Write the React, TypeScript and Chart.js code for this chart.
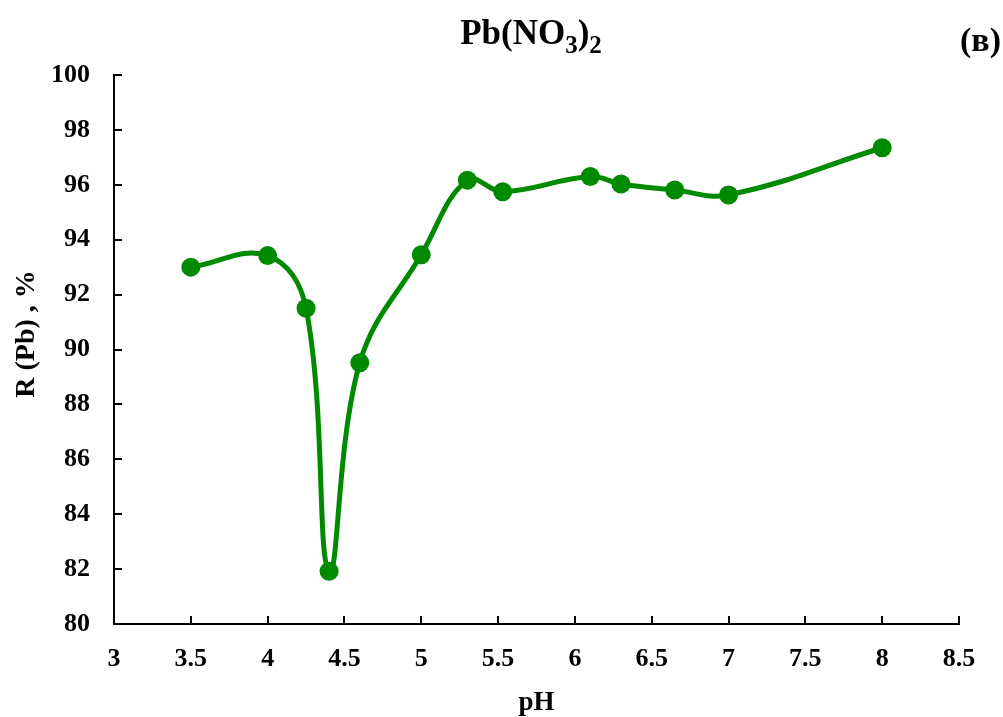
import React, { useEffect, useRef } from "react";
import { Chart, registerables } from "chart.js";

Chart.register(...registerables);

// pH of the solution and lead removal R(Pb), %
const phValues = [3.5, 4.0, 4.25, 4.4, 4.6, 5.0, 5.3, 5.53, 6.1, 6.3, 6.65, 7.0, 8.0];
const recoveryPb = [93.0, 93.42, 91.5, 81.92, 89.52, 93.45, 96.17, 95.75, 96.3, 96.03, 95.81, 95.63, 97.35];

const xMin = 3;
const xMax = 8.5;
const xStep = 0.5;
const yMin = 80;
const yMax = 100;
const yStep = 2;

const titleMain = "Pb(NO";
const titleSub1 = "3";
const titleClose = ")";
const titleSub2 = "2";
const panelLabel = "(в)";
const xTitle = "pH";
const yTitle = "R (Pb) , %";

const SERIF = '"Liberation Serif", "Times New Roman", serif';
const GREEN = "#008A00";

const decorations = {
  id: "decorations",
  afterDraw(chart: any) {
    const { ctx, chartArea, scales } = chart;
    const { left, right, bottom } = chartArea;
    ctx.save();

    // inward tick marks
    ctx.strokeStyle = "#000";
    ctx.lineWidth = 2;
    ctx.beginPath();
    scales.x.ticks.forEach((t: any) => {
      const px = Math.round(scales.x.getPixelForValue(t.value));
      ctx.moveTo(px, bottom);
      ctx.lineTo(px, bottom - 8);
    });
    scales.y.ticks.forEach((t: any) => {
      const py = Math.round(scales.y.getPixelForValue(t.value));
      ctx.moveTo(left, py);
      ctx.lineTo(left + 8, py);
    });
    ctx.stroke();

    ctx.fillStyle = "#000";
    ctx.textBaseline = "alphabetic";

    // title with subscripts
    const mainFont = `bold 35px ${SERIF}`;
    const subFont = `bold 25px ${SERIF}`;
    ctx.font = mainFont;
    const w1 = ctx.measureText(titleMain).width;
    const w3 = ctx.measureText(titleClose).width;
    ctx.font = subFont;
    const w2 = ctx.measureText(titleSub1).width;
    const w4 = ctx.measureText(titleSub2).width;
    const total = w1 + w2 + w3 + w4;
    let x = 531 - total / 2;
    const base = 44;
    ctx.textAlign = "left";
    ctx.font = mainFont;
    ctx.fillText(titleMain, x, base);
    x += w1;
    ctx.font = subFont;
    ctx.fillText(titleSub1, x, base + 9);
    x += w2;
    ctx.font = mainFont;
    ctx.fillText(titleClose, x, base);
    x += w3;
    ctx.font = subFont;
    ctx.fillText(titleSub2, x, base + 9);

    // panel label
    ctx.font = `bold 34px ${SERIF}`;
    ctx.textAlign = "right";
    ctx.fillText(panelLabel, 1001, 51);

    // axis titles
    ctx.font = `bold 27px ${SERIF}`;
    ctx.textAlign = "center";
    ctx.fillText(xTitle, (left + right) / 2, 710);

    ctx.font = `bold 28px ${SERIF}`;
    ctx.translate(34, 334);
    ctx.rotate(-Math.PI / 2);
    ctx.fillText(yTitle, 0, 0);
    ctx.restore();
  },
};

const fmt = (v: any) => String(Number(v));

export default function App() {
  const canvasRef = useRef<HTMLCanvasElement | null>(null);

  useEffect(() => {
    document.body.style.margin = "0";
    let chart: Chart | null = null;
    let cancelled = false;

    const build = () => {
      const canvas = canvasRef.current;
      if (!canvas || cancelled) return;
      chart = new Chart(canvas, {
        type: "line",
        data: {
          datasets: [
            {
              data: phValues.map((v, i) => ({ x: v, y: recoveryPb[i] })),
              borderColor: GREEN,
              backgroundColor: GREEN,
              borderWidth: 5,
              tension: 0.4,
              pointRadius: 9.5,
              pointBorderWidth: 0,
              pointBackgroundColor: GREEN,
              pointBorderColor: GREEN,
              fill: false,
            },
          ],
        },
        options: {
          responsive: false,
          animation: false,
          devicePixelRatio: 1,
          layout: { padding: { top: 75, right: 44, left: 0, bottom: 0 } },
          plugins: {
            legend: { display: false },
            tooltip: { enabled: false },
            title: { display: false },
          },
          scales: {
            x: {
              type: "linear",
              min: xMin,
              max: xMax,
              grid: { display: false, drawTicks: false },
              border: { display: true, color: "#000", width: 2 },
              ticks: {
                stepSize: xStep,
                color: "#000",
                padding: 20,
                maxRotation: 0,
                autoSkip: false,
                callback: fmt,
                font: { family: SERIF, size: 26, weight: "bold" },
              },
              afterFit(scale: any) {
                scale.height = 93;
              },
            },
            y: {
              type: "linear",
              min: yMin,
              max: yMax,
              grid: { display: false, drawTicks: false },
              border: { display: true, color: "#000", width: 2 },
              ticks: {
                stepSize: yStep,
                color: "#000",
                padding: 24,
                callback: fmt,
                font: { family: SERIF, size: 26, weight: "bold" },
              },
              afterFit(scale: any) {
                scale.width = 114;
              },
            },
          },
        },
        plugins: [decorations],
      });
    };

    const loads = [
      document.fonts.load(`bold 26px "Liberation Serif"`),
      document.fonts.load(`bold 26px "Liberation Serif"`, "(в)"),
    ];
    Promise.all(loads).then(build, build);

    return () => {
      cancelled = true;
      if (chart) chart.destroy();
    };
  }, []);

  return (
    <div style={{ width: 1003, height: 717, background: "#fff" }}>
      <canvas ref={canvasRef} width={1003} height={717} style={{ display: "block" }} />
    </div>
  );
}
